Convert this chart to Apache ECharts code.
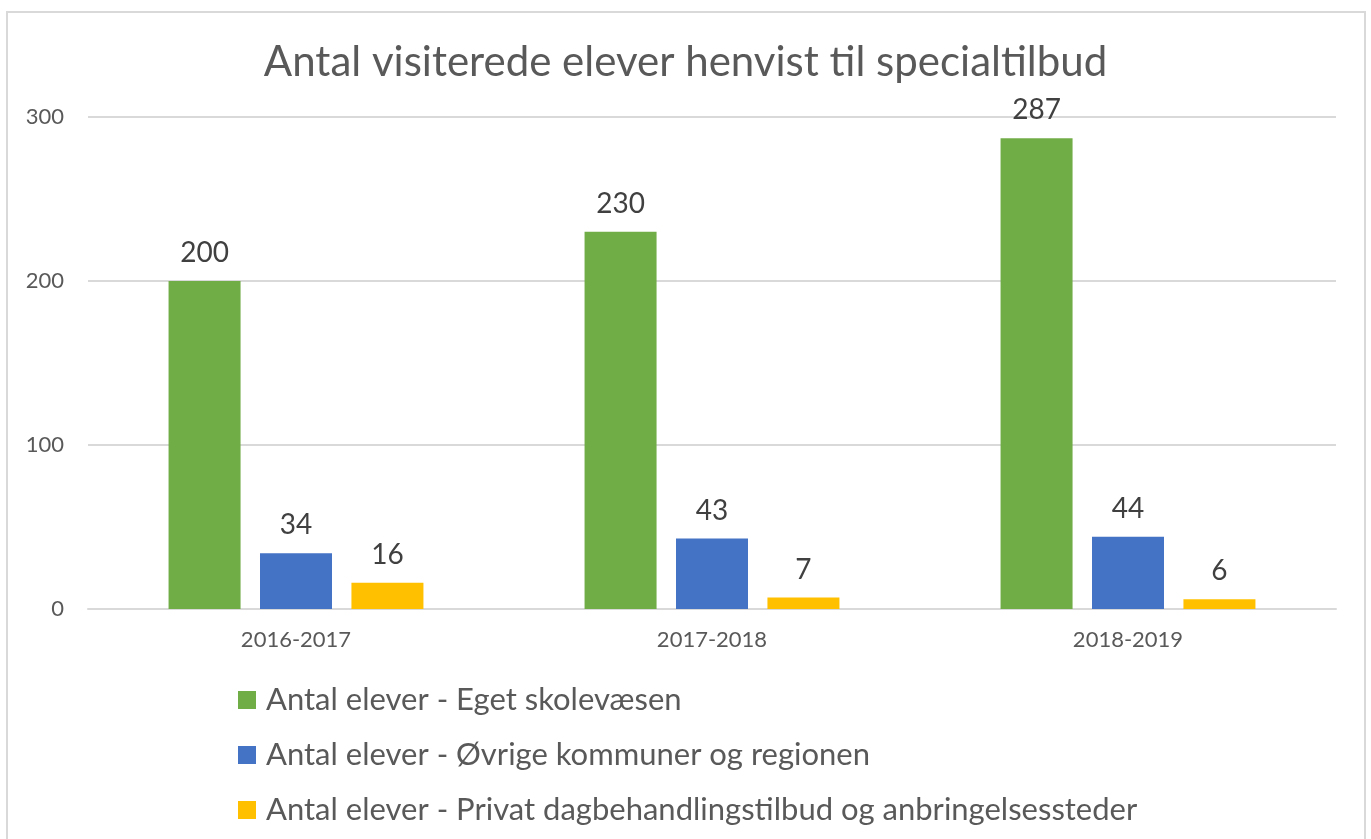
<!DOCTYPE html>
<html>
<head>
<meta charset="utf-8">
<script src="https://cdn.jsdelivr.net/npm/echarts@6/dist/echarts.min.js"></script>
<style>
html,body{margin:0;padding:0;background:#fff;}
#chart{width:1371px;height:839px;}
</style>
</head>
<body>
<div id="chart"></div>
<script>
const titleText = 'Antal visiterede elever henvist til specialtilbud';
const categories = ['2016-2017', '2017-2018', '2018-2019'];
const seriesNames = [
  'Antal elever - Eget skolevæsen',
  'Antal elever - Øvrige kommuner og regionen',
  'Antal elever - Privat dagbehandlingstilbud og anbringelsessteder'
];
const egetSkolevaesen = [200, 230, 287];
const oevrigeKommuner = [34, 43, 44];
const privatTilbud = [16, 7, 6];
const seriesColors = ['#70AD47', '#4472C4', '#FFC000'];
const yTicks = { min: 0, max: 300, interval: 100 };

const FONT = 'Lato';
const chart = echarts.init(document.getElementById('chart'));
const values = [egetSkolevaesen, oevrigeKommuner, privatTilbud];

chart.setOption({
  backgroundColor: '#fff',
  animation: false,
  textStyle: { fontFamily: FONT },
  graphic: [{
    type: 'rect',
    shape: { x: 7, y: 12, width: 1358, height: 860 },
    style: { fill: 'none', stroke: '#D9D9D9', lineWidth: 2 },
    silent: true
  }],
  title: {
    text: titleText,
    left: 'center',
    top: 40,
    padding: 0,
    textStyle: { fontFamily: FONT, fontSize: 42, fontWeight: 'normal', color: '#595959', lineHeight: 44 }
  },
  legend: {
    orient: 'vertical',
    left: 238,
    top: 684.5,
    padding: 0,
    itemWidth: 18,
    itemHeight: 18,
    itemGap: 24,
    icon: 'rect',
    data: seriesNames,
    textStyle: { fontFamily: FONT, fontSize: 31, color: '#595959', lineHeight: 31, padding: [0, 0, 0, 5] }
  },
  grid: { left: 88, right: 35, top: 117, bottom: 230, containLabel: false },
  xAxis: {
    type: 'category',
    data: categories,
    axisLine: { lineStyle: { color: '#D9D9D9', width: 2 } },
    axisTick: { show: false },
    axisLabel: { fontFamily: FONT, fontSize: 22, color: '#595959', margin: 20 }
  },
  yAxis: {
    type: 'value',
    min: yTicks.min,
    max: yTicks.max,
    interval: yTicks.interval,
    axisLine: { show: false },
    axisTick: { show: false },
    splitLine: { lineStyle: { color: '#D9D9D9', width: 2 } },
    axisLabel: { fontFamily: FONT, fontSize: 22, color: '#595959', margin: 24 }
  },
  series: seriesNames.map((name, i) => ({
    name: name,
    type: 'bar',
    data: values[i],
    barWidth: 72,
    barGap: '27%',
    itemStyle: { color: seriesColors[i] },
    label: {
      show: true,
      position: 'top',
      distance: 14,
      fontFamily: FONT,
      fontSize: 28,
      lineHeight: 28,
      color: '#404040'
    }
  }))
});
</script>
</body>
</html>
